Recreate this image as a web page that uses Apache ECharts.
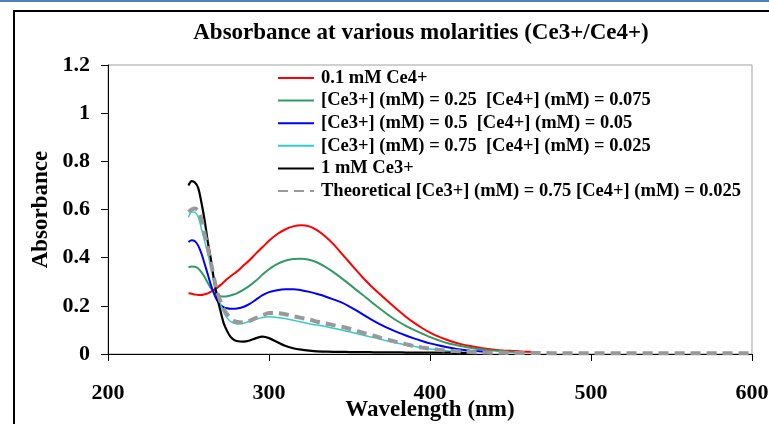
<!DOCTYPE html>
<html>
<head>
<meta charset="utf-8">
<script src="https://cdn.jsdelivr.net/npm/echarts@6/dist/echarts.min.js"></script>
<style>
html,body{margin:0;padding:0;background:#fff;}
#chart{width:769px;height:424px;}
</style>
</head>
<body>
<div id="chart"></div>
<script>
var wavelengths = [250,252,254,256,258,260,262,264,266,268,270,272,274,276,278,280,284,288,292,296,300,305,310,315,320,325,330,335,340,345,350,355,360,365,370,375,380,385,390,395,400,405,410,415,420,425,430,435,440,445,450,455,460,465,470,480,500,520,540,560,580,600];

var seriesNames = [
  "0.1 mM Ce4+",
  "[Ce3+] (mM) = 0.25  [Ce4+] (mM) = 0.075",
  "[Ce3+] (mM) = 0.5  [Ce4+] (mM) = 0.05",
  "[Ce3+] (mM) = 0.75  [Ce4+] (mM) = 0.025",
  "1 mM Ce3+",
  "Theoretical [Ce3+] (mM) = 0.75 [Ce4+] (mM) = 0.025"
];

var ce4_01 = [0.252,0.250,0.247,0.245,0.245,0.248,0.252,0.259,0.266,0.276,0.287,0.299,0.311,0.322,0.332,0.342,0.366,0.390,0.418,0.444,0.470,0.497,0.517,0.530,0.535,0.530,0.513,0.488,0.456,0.418,0.380,0.342,0.305,0.272,0.242,0.212,0.183,0.155,0.130,0.108,0.089,0.073,0.060,0.049,0.040,0.033,0.027,0.022,0.018,0.015,0.013,0.011,0.009,0.008];

var mix_025 = [0.360,0.363,0.362,0.355,0.340,0.320,0.295,0.272,0.255,0.245,0.240,0.239,0.240,0.243,0.247,0.252,0.266,0.284,0.305,0.330,0.352,0.373,0.387,0.394,0.396,0.391,0.380,0.362,0.340,0.315,0.289,0.262,0.236,0.209,0.183,0.158,0.136,0.117,0.100,0.085,0.070,0.058,0.047,0.039,0.032,0.026,0.021,0.017,0.014,0.011,0.009,0.008];

var mix_05 = [0.465,0.472,0.468,0.450,0.418,0.375,0.330,0.285,0.248,0.220,0.203,0.194,0.190,0.188,0.188,0.189,0.195,0.208,0.226,0.244,0.257,0.265,0.269,0.269,0.265,0.258,0.249,0.239,0.227,0.214,0.197,0.178,0.157,0.138,0.120,0.104,0.090,0.077,0.065,0.054,0.044,0.036,0.029,0.023,0.018,0.014,0.011,0.009];

var mix_075 = [0.568,0.590,0.588,0.570,0.520,0.470,0.416,0.358,0.300,0.245,0.203,0.172,0.150,0.136,0.128,0.125,0.128,0.136,0.145,0.152,0.155,0.152,0.147,0.140,0.133,0.126,0.120,0.114,0.107,0.100,0.092,0.084,0.076,0.068,0.060,0.052,0.045,0.038,0.032,0.026,0.021,0.017,0.013,0.010,0.008];

var ce3_1 = [0.700,0.718,0.712,0.690,0.630,0.556,0.465,0.390,0.300,0.230,0.175,0.125,0.095,0.072,0.060,0.054,0.051,0.056,0.066,0.072,0.066,0.050,0.034,0.024,0.018,0.014,0.011,0.010,0.009,0.009,0.008,0.008,0.008,0.007,0.007,0.007,0.007,0.006,0.006,0.006,0.006,0.006,0.006,0.005,0.005,0.005];

var theoretical_075 = [0.590,0.600,0.604,0.595,0.560,0.500,0.440,0.375,0.310,0.255,0.215,0.185,0.165,0.150,0.138,0.133,0.131,0.138,0.150,0.160,0.170,0.170,0.165,0.157,0.150,0.143,0.134,0.127,0.120,0.113,0.105,0.095,0.085,0.076,0.066,0.057,0.049,0.041,0.033,0.027,0.022,0.018,0.014,0.012,0.010,0.008,0.007,0.006,0.005,0.005,0.004,0.004,0.004,0.004,0.004,0.003,0.003,0.003,0.003,0.003,0.003,0.003];

var xTicks = [200,300,400,500,600];
var yTicks = [0,0.2,0.4,0.6,0.8,1,1.2];

var FONT = "'Liberation Serif','Times New Roman',serif";

function pairs(vals){
  return vals.map(function(v,i){ return [wavelengths[i], v]; });
}

var allValues = [ce4_01, mix_025, mix_05, mix_075, ce3_1, theoretical_075];
var styles = [
  {color:'#ff0000', width:2, type:'solid'},
  {color:'#339966', width:2, type:'solid'},
  {color:'#0000ff', width:2, type:'solid'},
  {color:'#33cccc', width:1.5, type:'solid'},
  {color:'#000000', width:2.2, type:'solid'},
  {color:'#999999', width:4, type:[10,6]}
];

var series = allValues.map(function(vals, k){
  return {
    name: seriesNames[k],
    type: 'line',
    data: pairs(vals),
    symbol: 'none',
    smooth: 0.3,
    lineStyle: styles[k],
    itemStyle: {color: styles[k].color},
    z: 2 + k
  };
});

var chart = echarts.init(document.getElementById('chart'), null, {renderer:'canvas'});
chart.setOption({
  animation: false,
  backgroundColor: '#ffffff',
  title: {
    text: 'Absorbance at various molarities (Ce3+/Ce4+)',
    left: 416,
    textAlign: 'center',
    top: 17,
    textStyle: {fontFamily: FONT, fontWeight: 'bold', fontSize: 23, color: '#000'}
  },
  graphic: [
    {type:'line', shape:{x1:0,y1:1,x2:769,y2:1}, style:{stroke:'#4f81bd', lineWidth:2}, silent:true},
    {type:'rect', shape:{x:14,y:11,width:800,height:500}, style:{fill:'none', stroke:'#000', lineWidth:2}, silent:true}
  ],
  legend: {
    orient: 'vertical',
    left: 277,
    top: 68,
    padding: 0,
    itemWidth: 36,
    itemHeight: 12,
    itemGap: 2.6,
    selectedMode: false,
    itemStyle: {opacity: 0},
    textStyle: {fontFamily: FONT, fontWeight: 'bold', fontSize: 18.5, color: '#000', lineHeight: 20, padding:[0,0,0,2]},
    data: seriesNames
  },
  grid: {
    left: 108, right: 17, top: 65, bottom: 70,
    outerBoundsMode: 'none',
    containLabel: false,
    show: true, borderColor: '#a0a0a0', borderWidth: 1, backgroundColor: 'transparent'
  },
  xAxis: {
    type: 'value', min: xTicks[0], max: xTicks[xTicks.length-1], interval: 100,
    name: 'Wavelength (nm)', nameLocation: 'middle', nameGap: 45, nameMoveOverlap: false,
    nameTextStyle: {fontFamily: FONT, fontWeight: 'bold', fontSize: 23, color: '#000'},
    axisLine: {lineStyle: {color: '#000', width: 1}},
    axisTick: {show: true, inside: false, length: 7, lineStyle: {color: '#000'}},
    axisLabel: {fontFamily: FONT, fontWeight: 'bold', fontSize: 22, color: '#000', margin: 28},
    splitLine: {show: false}
  },
  yAxis: {
    type: 'value', min: yTicks[0], max: yTicks[yTicks.length-1], interval: 0.2,
    name: 'Absorbance', nameLocation: 'middle', nameGap: 55, nameMoveOverlap: false,
    nameTextStyle: {fontFamily: FONT, fontWeight: 'bold', fontSize: 23, color: '#000'},
    axisLine: {show: true, lineStyle: {color: '#000', width: 1}},
    axisTick: {show: true, inside: false, length: 7, lineStyle: {color: '#000'}},
    axisLabel: {fontFamily: FONT, fontWeight: 'bold', fontSize: 22, color: '#000', margin: 18,
      formatter: function(v){ return String(Math.round(v*10)/10); }},
    splitLine: {show: false}
  },
  series: series
});
</script>
</body>
</html>
